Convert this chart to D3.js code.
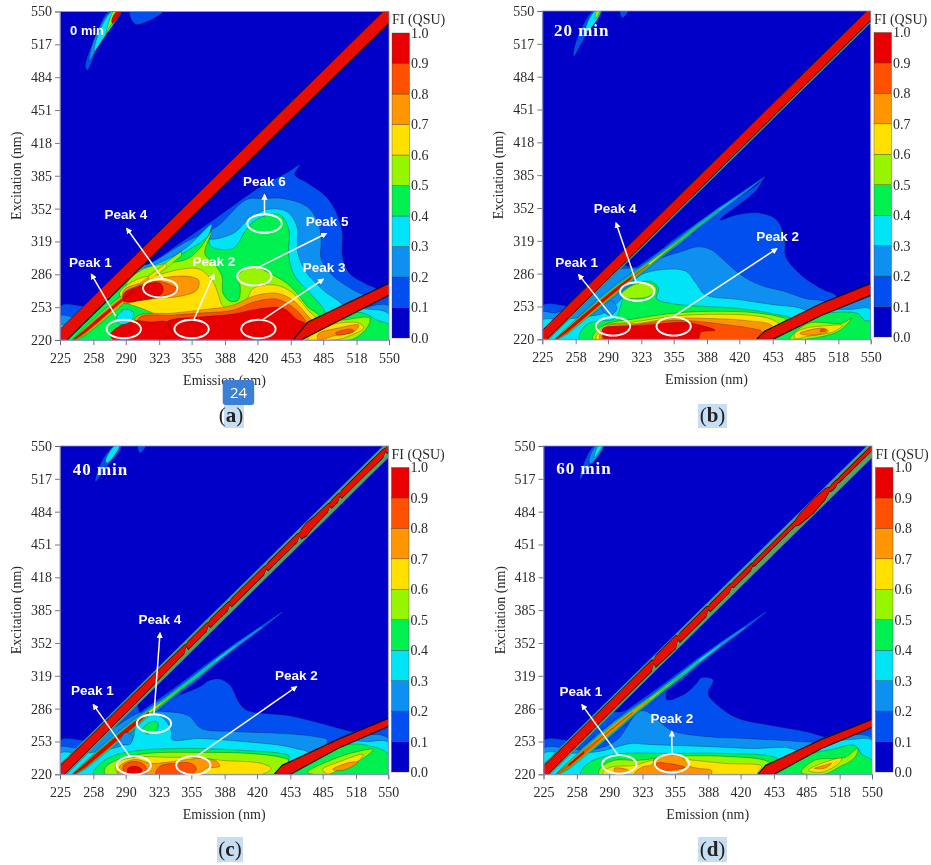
<!DOCTYPE html>
<html><head><meta charset="utf-8">
<script src="https://cdn.jsdelivr.net/npm/d3@7/dist/d3.min.js"></script>
<style>html,body{margin:0;background:#fff}svg{display:block}</style></head>
<body><svg id="c" width="931" height="865"></svg>
<script>
// ---- axes and legend ----
const emTicks=[225,258,290,323,355,388,420,453,485,518,550];
const exTicks=[220,253,286,319,352,385,418,451,484,517,550];
const legendTicks=[0,.1,.2,.3,.4,.5,.6,.7,.8,.9,1];
const levelColors=["#0000c8","#0050ee","#0f90f0","#00e4f5","#00f050","#98f500","#ffe000","#ff9500","#ff5000","#e80000"];
// ---- diagonal scatter streak (em, ex) shared by panels ----
const streakEm=[238,250,265,280,297,313,330,345,362,379,400,425,445];
const streakEx=[220,229,242,255,269,282,295,307,320,334,350,368,383];
// half widths of each level along the streak
const aStreak=[[2,[1,5,6,6,6,0,0,0,0,0,0,0,0]],[3,[1,5,6,6,5,4,3,2,0,0,0,0,0]],[4,[1,4.5,5.5,5.5,4.5,3.5,3,2,0,0,0,0,0]],[5,[.8,4,5,5,4,3,3,2,0,0,0,0,0]],[6,[.6,3,4,4,3,2,2,0,0,0,0,0,0]],[7,[.5,2.5,3,3,2,1,0,0,0,0,0,0,0]],[8,[.4,2,2.5,2,1,0,0,0,0,0,0,0,0]],[9,[.3,1.2,1.5,1,.5,0,0,0,0,0,0,0,0]]];
const bStreak=[[1,[2,6,7,8,8,7,6,5,5,4,3,2,.6]],[2,[1,4,5,6,6,5,4,3.5,3.5,3,2.5,1.2,.3]],[3,[1,3.5,4,5,5,4,3,2,2,1.6,1,.3,0]],[4,[1,3,4,4,4,3,2.2,1.5,1.2,.8,.3,0,0]],[5,[1,3,3.5,3.5,3.5,2.5,1.6,1,.6,.3,0,0,0]],[6,[.8,2.5,3,3,3,2,1,.5,.2,0,0,0,0]],[7,[.6,2,2.5,2.5,2.5,1.5,.5,0,0,0,0,0,0]],[8,[.5,1.8,2,2,2,1.2,.3,0,0,0,0,0,0]],[9,[.4,1.5,1.8,1.5,1.5,1,0,0,0,0,0,0,0]]];
const cStreak=[[1,[2,6,7,8,8,7,6,5,5,4,3,2,.6]],[2,[1.5,5,6,6,6,5,3.5,3,3,2.5,2,1,0]],[3,[1.3,4,5,5,5,3.5,2.5,2,2,1.5,.6,0,0]],[4,[1,3.5,4,4,4,2.5,1.8,1.2,.8,.3,0,0,0]],[5,[.8,3,3.5,3.5,3.5,2,.8,.4,0,0,0,0,0]],[6,[.6,2.5,3,3,3,1.2,.3,0,0,0,0,0,0]],[7,[.5,2.2,2.8,2.8,2.8,.8,0,0,0,0,0,0,0]],[8,[.5,2,2.5,2.5,2.5,.6,0,0,0,0,0,0,0]],[9,[.4,1.8,2.2,2.2,2.2,.5,0,0,0,0,0,0,0]]];
const dStreak=[[1,[2,6,7,8,8,7,6,5,5,4,3,2,.6]],[2,[1.5,5,6,6,6,5,3.5,3,3,2.5,2,1,0]],[3,[1.3,4,5,5,5,3.5,2.8,2.2,2,1.6,.7,0,0]],[4,[1,3.5,4,4,4,3,2,1.4,.8,.3,0,0,0]],[5,[.8,3,3.5,3.5,3.5,2.5,1.4,.7,.3,0,0,0,0]],[6,[.6,2.5,3,3,3,1.8,.7,.2,0,0,0,0,0]],[7,[.5,2,2.5,2.5,2.5,1.2,.3,0,0,0,0,0,0]],[8,[.4,1.5,1.8,1,.8,.4,0,0,0,0,0,0,0]],[9,[0,1,1.2,0,0,0,0,0,0,0,0,0,0]]];
// ---- Rayleigh band: offsets of excitation from emission ----
const aDiagEm=[225,552],aDiagUp=[5.5,5.5],aDiagDn=[-11,-11];
const bDiagEm=[225,552],bDiagUp=[3.5,3.5],bDiagDn=[-9,-9];
const cDiagEm=[225,300,348,350,352,370,372,374,391,393,395,427,429,431,460,462,464,469,476,490,492,494,500,502,504,530,545,547,549,552];
const cDiagUp=[3,2.5,1.5,.3,1.5,1.5,.3,1.5,1.5,.3,1.5,1.5,.3,1.5,1.5,.3,2,3.5,2,1.5,.3,1.5,1.5,.3,1.5,1.5,1.5,.3,1.5,1.5];
const cDiagDn=[-9,-8,-6,-1,-6,-6,-2,-6,-6,-2,-6,-6,-2,-6,-6,-2,-7,-9,-7,-6,-2,-6,-6,-2,-6,-6,-6,-2,-6,-6];
const dDiagEm=[225,300,332,334,336,356,358,360,386,388,390,409,411,413,430,432,434,474,478,492,504,508,510,514,516,518,552];
const dDiagUp=[3,2.5,2.5,.3,3,3.5,.3,2,2,.3,1.5,1.5,.3,1,1,0,.7,.7,3,4.5,3,.3,1,1,.2,.7,.7];
const dDiagDn=[-9,-8,-8,-2,-8,-9,-2,-7,-7,-2,-6,-6,-2,-5,-5,-2,-4,-4,-7,-9,-7,-3,-5,-5,-3,-4,-4];
// second-order band outlines (em, ex)
const aSecond=[[463,220],[552,266],[552,278],[470,238],[455,220]];
const bSecond=[[437,220],[453,220],[501,244],[552,265],[552,277],[501,256],[445,228]];
const cSecond=[[437,220],[453,220],[500,246],[552,269],[552,277],[500,255],[445,229]];
const dSecond=[[437,220],[453,220],[500,246],[552,268],[552,276],[500,255],[445,229]];
// ---- 0 min contours: region above each level ----
const a1=[[225,254],[261,255],[311,294],[377,341],[423,374],[449,388],[462,396],[457,386],[469,378],[488,364],[498,348],[504,327],[504,304],[511,287],[528,276],[538,270],[463,220],[225,220]];
const a2=[[225,244],[243,244],[300,292],[314,297],[350,319],[380,334],[409,361],[426,362],[446,362],[469,354],[480,338],[483,321],[483,301],[495,284],[515,270],[528,262],[463,220],[225,220]];
const a3=[[225,235],[235,235],[290,285],[327,299],[350,313],[375,336],[372,322],[396,327],[411,341],[429,351],[449,349],[459,334],[460,307],[469,287],[485,270],[505,252],[463,220],[225,220]];
const a4=[[232,220],[268,255],[300,288],[318,290],[340,303],[372,325],[375,332],[373,315],[396,312],[409,331],[419,341],[442,346],[451,331],[451,304],[457,284],[472,267],[487,245],[463,220]];
const a5=[[291,277],[307,291],[330,297],[350,301],[363,312],[375,329],[368,307],[377,297],[385,284],[386,267],[393,259],[401,260],[403,274],[400,284],[416,294],[432,287],[449,277],[459,267],[469,254],[482,242],[463,220],[335,225],[322,240],[320,250],[300,256],[290,258]];
const a6=[[284,267],[301,281],[324,286],[344,291],[363,291],[377,277],[381,267],[386,254],[396,250],[409,260],[416,272],[439,275],[455,267],[470,250],[478,240],[463,220],[335,225],[325,242],[305,252],[290,258]];
const a7a=[[288,270],[304,277],[324,282],[350,284],[362,280],[360,270],[344,264],[324,262],[304,260],[288,257]];
const a7b=[[300,243],[337,247],[363,250],[396,255],[416,264],[439,267],[455,260],[469,245],[476,235],[463,220],[300,220]];
const a8b=[[303,242],[337,245],[363,247],[396,250],[416,258],[439,261],[455,253],[467,240],[470,232],[463,220],[303,220]];
const a8a=[[288,267],[304,275],[321,279],[337,274],[342,270],[330,265],[307,260],[288,259]];
const a9a=[[289,267],[304,274],[324,277],[327,270],[324,265],[304,260],[288,259]];
const a9b=[[330,238],[363,243],[396,246],[420,251],[445,252],[460,240],[468,236],[463,220],[320,220]];
const a9c=[[275,226],[295,239],[315,238],[330,238],[335,225],[320,220],[278,220]];
const ac1=[[463,220],[550,265],[550,220]];
const ac2=[[463,220],[520,250],[550,254],[550,220]];
const ac3=[[463,220],[505,250],[530,251],[550,246],[550,220]];
const ac4=[[463,220],[495,245],[525,247],[538,240],[550,235],[550,220]];
const ac5=[[463,220],[485,238],[505,240],[531,242],[528,232],[512,220]];
const ac6=[[470,220],[475,228],[495,236],[520,237],[525,232],[505,222],[495,220]];
const ac7=[[480,220],[480,226],[500,232],[520,235],[515,228],[495,224]];
const ac8=[[497,227],[512,231],[515,229],[500,225]];
const at1=[[273,550],[286,550],[265,520],[252,491],[250,495],[260,525]];
const at1b=[[294,550],[327,550],[300,537]];
const at2=[[275,550],[285,550],[264,518],[254,500],[258,520]];
const at3=[[276,550],[284,550],[266,520],[259,510],[262,525]];
const at5=[[278,550],[284,550],[273,533],[270,525],[272,535]];
const at9=[[281,550],[285,550],[277,538],[276,541]];
const aHole3=[[281,243],[290,251],[298,247],[294,238],[284,236]];
const aLevels=[[1,a1],[1,ac1],[1,at1],[1,at1b],[2,a2],[2,ac2],[2,at2],[3,a3],[3,ac3],[3,at3],[4,a4],[4,ac4],[5,a5],[5,ac5],[5,at5],[6,a6],[6,ac6],[7,a7a],[7,a7b],[7,ac7],[8,a8a],[8,a8b],[8,ac8],[9,a9a],[9,a9b],[9,a9c],[9,at9]];
const aPatches=[[3,aHole3]];
// ---- 20 min contours ----
const b1=[[225,254],[262,255],[300,295],[318,293],[358,323],[397,350],[437,375],[445,385],[437,370],[401,340],[417,345],[440,347],[457,340],[465,320],[466,303],[483,283],[503,270],[516,263],[437,220],[225,220]];
const b2=[[225,247],[240,247],[300,290],[320,292],[346,303],[362,308],[379,313],[392,310],[402,302],[415,290],[429,280],[445,273],[465,268],[485,261],[505,257],[437,220],[225,220]];
const b3=[[225,239],[245,240],[270,243],[285,246],[298,255],[310,270],[323,285],[366,289],[376,278],[386,265],[419,260],[452,255],[481,251],[490,245],[437,220],[225,220]];
const b4=[[262,220],[267,233],[277,238],[297,241],[303,255],[306,268],[316,276],[333,278],[340,271],[338,261],[353,256],[386,253],[419,251],[452,246],[472,240],[437,220]];
const b5a=[[275,220],[278,228],[290,236],[313,240],[353,246],[386,248],[432,247],[458,243],[466,240],[437,220]];
const b5b=[[303,265],[316,275],[333,276],[338,270],[330,263],[318,261],[306,262]];
const b6=[[282,228],[287,234],[313,237],[353,243],[386,245],[432,244],[452,240],[460,234],[437,220],[278,220]];
const b7=[[288,233],[320,236],[353,241],[386,241],[425,239],[452,234],[452,228],[437,220],[282,220]];
const b8=[[285,226],[288,231],[320,235],[353,239],[379,238],[405,235],[432,231],[442,228],[440,224],[437,220],[285,220]];
const b9=[[285,224],[285,231],[310,233],[336,235],[366,237],[386,233],[396,229],[382,227],[379,220],[287,220]];
const bc1=[[437,220],[550,265],[550,220]];
const bc2=[[440,220],[518,255],[550,263],[550,220]];
const bc3=[[440,220],[500,248],[530,250],[550,250],[550,220]];
const bc4=[[445,220],[490,243],[537,246],[544,239],[550,238],[550,220]];
const bc5=[[470,220],[488,236],[521,236],[531,241],[518,228],[485,220]];
const bc6=[[475,221],[475,226],[485,231],[511,234],[522,234],[514,228],[488,223]];
const bc7=[[480,226],[488,229],[504,231],[508,228],[488,224]];
const bc8=[[501,230],[506,229],[504,228],[500,228]];
const bt1=[[275,550],[284,550],[268,525],[256,504],[258,518]];
const bt1b=[[302,550],[310,550],[304,543]];
const bt3=[[277,550],[283,550],[270,530],[268,532]];
const bt5=[[279,550],[282,550],[277,542]];
const bHole2=[[284,251],[293,259],[299,251],[292,244]];
const bLevels=[[1,b1],[1,bc1],[1,bt1],[1,bt1b],[2,b2],[2,bc2],[3,b3],[3,bc3],[3,bt3],[4,b4],[4,bc4],[5,b5a],[5,b5b],[5,bc5],[5,bt5],[6,b6],[6,bc6],[7,b7],[7,bc7],[8,b8],[8,bc8],[9,b9]];
const bPatches=[[2,bHole2]];
// ---- 40 min contours ----
const c1=[[225,254],[262,255],[300,292],[305,282],[320,290],[365,309],[372,314],[382,316],[393,310],[403,291],[411,284],[451,279],[484,271],[514,263],[525,262],[437,220],[225,220]];
const c2=[[225,247],[245,247],[296,278],[305,282],[329,283],[352,279],[365,266],[398,263],[444,261],[477,258],[490,254],[437,220],[225,220]];
const c3=[[225,241],[250,241],[296,254],[300,268],[312,280],[325,278],[335,265],[336,255],[362,256],[405,253],[444,249],[458,246],[470,242],[437,220],[225,220]];
const c4a=[[258,220],[262,228],[276,238],[303,244],[359,246],[405,244],[444,241],[452,238],[437,220]];
const c4b=[[307,266],[316,273],[322,272],[320,263],[310,261]];
const c5=[[270,220],[270,227],[286,236],[312,241],[359,242],[411,241],[444,237],[451,234],[437,220]];
const c6=[[281,231],[299,237],[335,237],[359,237],[385,234],[424,231],[434,226],[425,220],[283,220]];
const c7=[[283,220],[284,228],[299,235],[315,231],[330,232],[352,235],[365,236],[380,233],[383,228],[370,226],[365,222],[360,220]];
const c8a=[[288,222],[288,229],[299,233],[309,229],[311,222],[309,220],[290,220]];
const c8b=[[320,220],[324,228],[338,231],[355,231],[360,225],[355,220]];
const c9=[[293,220],[292,226],[299,228],[306,225],[304,220]];
const cc1=[[437,220],[550,268],[550,220]];
const cc2=[[440,220],[520,258],[550,256],[550,220]];
const cc3=[[440,220],[505,252],[530,253],[550,252],[550,220]];
const cc4=[[448,220],[480,240],[510,250],[530,249],[550,240],[550,220]];
const cc5=[[470,222],[495,235],[520,243],[535,245],[525,236],[500,225],[490,220]];
const cc6=[[485,225],[500,232],[525,240],[520,233],[500,224],[490,220]];
const cc7=[[495,225],[512,232],[520,232],[505,224]];
const ct1=[[278,550],[286,550],[272,530],[260,514],[264,530]];
const ct1b=[[302,550],[310,550],[304,543]];
const ct3=[[279,550],[284,550],[272,533],[270,535]];
const cHole2=[[284,252],[290,262],[297,258],[294,250]];
const cLevels=[[1,c1],[1,cc1],[1,ct1],[1,ct1b],[2,c2],[2,cc2],[3,c3],[3,cc3],[3,ct3],[4,c4a],[4,c4b],[4,cc4],[5,c5],[5,cc5],[6,c6],[6,cc6],[7,c7],[7,cc7],[8,c8a],[8,c8b],[9,c9]];
const cPatches=[[2,cHole2]];
// ---- 60 min contours ----
const dd1=[[225,254],[262,255],[290,282],[302,283],[330,296],[346,305],[347,295],[365,301],[376,311],[381,317],[393,315],[388,301],[399,288],[418,276],[451,269],[484,263],[510,256],[515,256],[437,220],[225,220]];
const dd2=[[225,246],[250,246],[270,244],[297,254],[322,284],[352,264],[385,258],[424,256],[477,253],[500,250],[437,220],[225,220]];
const dd3=[[225,241],[250,241],[280,243],[299,248],[312,251],[329,250],[385,248],[431,246],[470,246],[480,240],[437,220],[225,220]];
const dd4=[[262,220],[269,231],[286,238],[305,241],[352,241],[404,241],[451,238],[458,234],[437,220]];
const dd5=[[280,220],[282,227],[295,234],[319,234],[352,238],[404,238],[444,234],[451,229],[437,220]];
const dd6=[[284,220],[284,222],[291,227],[315,229],[332,234],[358,236],[375,234],[404,231],[441,228],[437,222],[437,220]];
const dd7a=[[295,226],[309,224],[308,221],[296,222]];
const dd7b=[[315,220],[322,227],[333,230],[335,236],[361,238],[368,229],[378,226],[391,224],[391,220]];
const dd8=[[337,231],[348,231],[365,227],[347,224],[338,226]];
const dc1=[[437,220],[550,268],[550,220]];
const dc2=[[440,220],[520,258],[550,256],[550,220]];
const dc3=[[440,220],[510,252],[530,255],[550,254],[550,220]];
const dc4=[[445,220],[480,238],[510,245],[533,249],[540,240],[550,234],[550,220]];
const dc5=[[480,222],[493,234],[523,237],[536,246],[533,237],[517,227],[503,220]];
const dc6=[[487,224],[500,231],[520,236],[517,231],[500,222]];
const dc7=[[493,226],[503,229],[510,231],[503,226]];
const dt1=[[275,550],[285,550],[270,530],[261,516],[264,530]];
const dt2=[[277,550],[284,550],[272,532],[270,535]];
const dt3=[[279,550],[283,550],[275,538]];
const dLevels=[[1,dd1],[1,dc1],[1,dt1],[2,dd2],[2,dc2],[2,dt2],[3,dd3],[3,dc3],[3,dt3],[4,dd4],[4,dc4],[5,dd5],[5,dc5],[6,dd6],[6,dc6],[7,dd7a],[7,dd7b],[7,dc7],[8,dd8]];
const dPatches=[];
// ---- annotations: [label, arrowFromEm, arrowFromEx, arrowToEm, arrowToEx, labelEm, labelEx] ----
const aPeaks=[["Peak 1",280,244,256,286,255,298],["Peak 4",327,281,291,332,290,346],["Peak 2",357,240,377,286,377,299],["Peak 3",426,241,485,281,486,293],["Peak 5",419,292,488,327,489,339],["Peak 6",427,346,427,366,427,379]];
const bPeaks=[["Peak 1",294,243,261,285,259,297],["Peak 4",318,277,298,337,297,352],["Peak 2",355,243,457,311,458,324]];
const cPeaks=[["Peak 1",294,238,258,290,257,304],["Peak 4",318,280,324,362,324,376],["Peak 2",360,238,459,308,459,320]];
const dPeaks=[["Peak 1",299,239,263,290,262,303],["Peak 2",352,240,352,263,352,276]];
const aRings=[[288,231],[355,231],[421,231],[324,272],[417,284],[427,337]];
const bRings=[[295,233],[355,233],[319,268]];
const cRings=[[298,229],[357,229],[318,271]];
const dRings=[[300,230],[352,231]];
const timeLabels=["0 min","20 min","40 min","60 min"];

const panels=[
 {x0:60,x1:389,y0:340,y1:11.5,cb:392,cbTop:33,cbBot:338,t:timeLabels[0],tEm:235,tEx:526,sans:true,levels:aLevels,patches:aPatches,streak:aStreak,em:aDiagEm,up:aDiagUp,dn:aDiagDn,second:aSecond,peaks:aPeaks,rings:aRings,fringe:false,edge:2,
  letter:"a",lx:231,ly:422,hx:224,hy:405,hw:20,hh:23},
 {x0:542.3,x1:870.7,y0:339.3,y1:11,cb:874,cbTop:32.5,cbBot:337,t:timeLabels[1],tEm:236.5,tEx:525,levels:bLevels,patches:bPatches,streak:bStreak,em:bDiagEm,up:bDiagUp,dn:bDiagDn,second:bSecond,peaks:bPeaks,rings:bRings,fringe:true,fUp:4,edge:1,
  letter:"b",lx:712.5,ly:422,hx:698,hy:404,hw:29,hh:24},
 {x0:60,x1:388.3,y0:774.3,y1:446,cb:391.5,cbTop:467.5,cbBot:772,t:timeLabels[2],tEm:237.5,tEx:521,levels:cLevels,patches:cPatches,streak:cStreak,em:cDiagEm,up:cDiagUp,dn:cDiagDn,second:cSecond,peaks:cPeaks,rings:cRings,fringe:true,fUp:5.5,edge:1,
  letter:"c",lx:230,ly:856,hx:217,hy:837,hw:26,hh:25},
 {x0:543.5,x1:872,y0:774.3,y1:446,cb:875.5,cbTop:467.5,cbBot:772,t:timeLabels[3],tEm:237.5,tEx:521.5,levels:dLevels,patches:dPatches,streak:dStreak,em:dDiagEm,up:dDiagUp,dn:dDiagDn,second:dSecond,peaks:dPeaks,rings:dRings,fringe:true,fUp:5.5,edge:1,
  letter:"d",lx:712.5,ly:856,hx:698,hy:837,hw:29,hh:25}
];

const svg=d3.select("#c");
const defs=svg.append("defs");
defs.append("filter").attr("id","soft")
  .attr("filterUnits","userSpaceOnUse").attr("x",0).attr("y",0).attr("width",931).attr("height",865)
  .append("feGaussianBlur").attr("stdDeviation",0.45);
const m=defs.append("marker").attr("id","ah").attr("viewBox","0 0 10 10").attr("refX",8).attr("refY",5)
  .attr("markerWidth",4.2).attr("markerHeight",4.2).attr("orient","auto");
m.append("path").attr("d","M0,0L10,5L0,10Z").attr("fill","#fff");

const root=svg.append("g").attr("filter","url(#soft)");
const SERIF="'Liberation Serif',serif", SANS="'Liberation Sans',sans-serif", TXT="#2a2a2a", FS=14;

panels.forEach((p,i)=>{
  root.append("rect").attr("x",p.hx).attr("y",p.hy).attr("width",p.hw).attr("height",p.hh).attr("fill","#c7def2");
  const g=root.append("g");
  const x=d3.scaleLinear().domain([225,550]).range([p.x0,p.x1]);
  const y=d3.scaleLinear().domain([220,550]).range([p.y0,p.y1]);
  const cid="clip"+i;
  defs.append("clipPath").attr("id",cid).append("rect").attr("x",p.x0).attr("y",p.y1).attr("width",p.x1-p.x0).attr("height",p.y0-p.y1);
  const plot=g.append("g").attr("clip-path",`url(#${cid})`);
  plot.append("rect").attr("x",p.x0).attr("y",p.y1).attr("width",p.x1-p.x0).attr("height",p.y0-p.y1).attr("fill",levelColors[0]);
  const line=d3.line().x(d=>x(d[0])).y(d=>y(d[1])).curve(d3.curveLinearClosed);
  const smooth=d3.line().x(d=>x(d[0])).y(d=>y(d[1])).curve(d3.curveCatmullRomClosed.alpha(.5));
  const poly=(pts,lv)=>plot.append("path").attr("d",smooth(pts)).attr("fill",levelColors[lv]).attr("stroke","#000").attr("stroke-width",.4).attr("stroke-opacity",.65).attr("stroke-linejoin","round");
  const area=d3.area().x(d=>x(d.e)).y0(d=>y(d.lo)).y1(d=>y(d.hi));
  for(let lv=1;lv<=9;lv++){
    p.levels.filter(d=>d[0]===lv).forEach(d=>poly(d[1],lv));
    const s=p.streak.find(d=>d[0]===lv);
    if(s){
      const pts=streakEm.map((e,k)=>({e,lo:streakEx[k]-s[1][k],hi:streakEx[k]+s[1][k]})).filter(d=>d.hi>d.lo);
      plot.append("path").attr("d",area(pts)).attr("fill",levelColors[lv]).attr("stroke","#000").attr("stroke-width",.3).attr("stroke-opacity",.55);
    }
  }
  p.patches.forEach(d=>poly(d[1],d[0]));
  // Rayleigh band
  const dPts=p.em.map((e,k)=>({e,u:p.up[k],l:p.dn[k]}));
  if(p.fringe){
    plot.append("path").attr("d",area(dPts.map(d=>({e:d.e,lo:d.e-12,hi:d.e+p.fUp})))).attr("fill","#1e8fb0");
    plot.append("path").attr("d",area(dPts.map(d=>({e:d.e,lo:d.e-11,hi:d.e+p.fUp-1})))).attr("fill","#5c9e60");
  }
  plot.append("path").attr("d",area(dPts.map(d=>({e:d.e,lo:d.e+d.l-(p.edge===2?1.8:1),hi:d.e+d.u+(p.edge===2?.6:.8)})))).attr("fill","#0a0a0a");
  plot.append("path").attr("d",area(dPts.map(d=>({e:d.e,lo:d.e+d.l,hi:d.e+d.u})))).attr("fill","#e81000");
  // second-order band
  plot.append("path").attr("d",line(p.second)).attr("fill","#e81000").attr("stroke","#0a0a0a").attr("stroke-width",1.2);
  // axes
  const xa=g.append("g").attr("transform",`translate(0,${p.y0})`).call(d3.axisBottom(x).tickValues(emTicks).tickSize(5).tickPadding(8).tickFormat(d3.format("d")));
  const ya=g.append("g").attr("transform",`translate(${p.x0},0)`).call(d3.axisLeft(y).tickValues(exTicks).tickSize(5).tickPadding(3).tickFormat(d3.format("d")));
  [xa,ya].forEach(a=>{a.selectAll("text").attr("font-family",SERIF).attr("font-size",FS).attr("fill",TXT);
    a.selectAll("line").attr("stroke","#555").attr("stroke-width",.8);a.select(".domain").attr("stroke","#8a8ac0").attr("stroke-width",.8);});
  g.append("rect").attr("x",p.x0).attr("y",p.y1).attr("width",p.x1-p.x0).attr("height",p.y0-p.y1).attr("fill","none").attr("stroke","#8a8ac0").attr("stroke-width",.8);
  g.append("text").attr("x",(p.x0+p.x1)/2).attr("y",p.y0+44.5).attr("text-anchor","middle").attr("font-family",SERIF).attr("font-size",FS).attr("fill",TXT).text("Emission (nm)");
  g.append("text").attr("transform",`translate(${p.x0-39},${(p.y0+p.y1)/2})rotate(-90)`).attr("text-anchor","middle").attr("font-family",SERIF).attr("font-size",FS).attr("fill",TXT).text("Excitation (nm)");
  // legend
  const ly=d3.scaleLinear().domain([0,1]).range([p.cbBot,p.cbTop]);
  legendTicks.slice(0,10).forEach((v,k)=>{
    g.append("rect").attr("x",p.cb).attr("y",ly(legendTicks[k+1])).attr("width",17.5).attr("height",ly(v)-ly(legendTicks[k+1]))
     .attr("fill",levelColors[k]).attr("stroke","#333").attr("stroke-width",.35);
  });
  const la=g.append("g").attr("transform",`translate(${p.cb+18},0)`).call(d3.axisRight(ly).tickValues(legendTicks).tickSize(0).tickPadding(1).tickFormat(d3.format(".1f")));
  la.select(".domain").remove();
  la.selectAll("text").attr("font-family",SERIF).attr("font-size",FS).attr("fill",TXT);
  g.append("text").attr("x",p.cb).attr("y",p.cbTop-9).attr("font-family",SERIF).attr("font-size",FS).attr("fill",TXT).text("FI (QSU)");
  // annotations
  const rx=d=>Math.abs(x(d+17)-x(d));
  p.rings.forEach(r=>g.append("ellipse").attr("cx",x(r[0])).attr("cy",y(r[1])).attr("rx",rx(r[0])).attr("ry",Math.abs(y(r[1]+9.3)-y(r[1]))).attr("fill","none").attr("stroke","#fff").attr("stroke-width",1.9));
  p.peaks.forEach(a=>{
    g.append("line").attr("x1",x(a[1])).attr("y1",y(a[2])).attr("x2",x(a[3])).attr("y2",y(a[4])).attr("stroke","#fff").attr("stroke-width",1.5).attr("marker-end","url(#ah)");
    g.append("text").attr("x",x(a[5])).attr("y",y(a[6])).attr("dy","0.35em").attr("text-anchor","middle").attr("font-family",SANS).attr("font-weight","bold").attr("font-size",13.5).attr("fill","#fff").text(a[0]);
  });
  g.append("text").attr("x",x(p.tEm)).attr("y",y(p.tEx)).attr("fill","#fff").attr("font-weight","bold")
   .attr("font-family",p.sans?SANS:SERIF).attr("font-size",p.sans?13:17).attr("letter-spacing",p.sans?0:1).text(p.t);
  const lt=g.append("text").attr("x",p.lx).attr("y",p.ly).attr("text-anchor","middle").attr("font-family",SERIF).attr("font-size",21).attr("fill","#222");
  lt.append("tspan").text("(");lt.append("tspan").attr("font-weight","bold").text(p.letter);lt.append("tspan").text(")");
});
root.append("rect").attr("x",222.7).attr("y",380).attr("width",31.5).attr("height",25).attr("rx",3).attr("fill","#3b80d6");
root.append("text").attr("x",238.5).attr("y",398).attr("text-anchor","middle").attr("font-family","'Open Sans',sans-serif").attr("font-size",15).attr("fill","#fff").text("24");
</script></body></html>
